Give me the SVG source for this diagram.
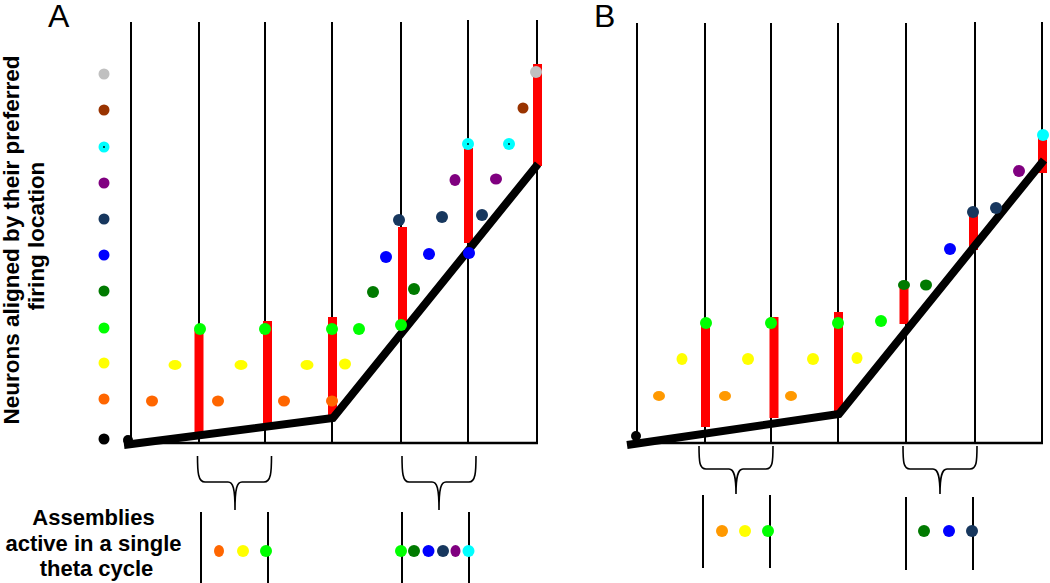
<svg xmlns="http://www.w3.org/2000/svg" width="1050" height="583" viewBox="0 0 1050 583">
<style>
.v{stroke:#000;stroke-width:2;fill:none}
.base{stroke:#000;stroke-width:2.5;fill:none}
.thick{stroke:#000;stroke-width:8;fill:none;stroke-linejoin:miter}
.red{fill:#ff0000}
.br{stroke:#000;stroke-width:1.6;fill:none}
.lbl{font-family:"Liberation Sans",Arial,sans-serif;font-size:32px;fill:#000}
.ax{font-family:"Liberation Sans",Arial,sans-serif;font-size:22.5px;font-weight:bold;fill:#000;text-anchor:middle}
.leg{font-family:"Liberation Sans",Arial,sans-serif;font-size:22px;font-weight:bold;fill:#000;text-anchor:middle}
.gy{fill:#c0c0c0}.bn{fill:#993300}.cy{fill:#00ffff}.pu{fill:#800080}.nv{fill:#17375e}
.bl{fill:#0000ff}.dg{fill:#007a00}.gr{fill:#00ff00}.ye{fill:#ffff00}.or{fill:#ff6600}.or2{fill:#ff9900}.bk{fill:#000}
.c{fill:#000}
</style>
<rect width="1050" height="583" fill="#fff"/>

<!-- Panel A -->
<g id="panelA">
<text class="lbl" x="48" y="27">A</text>
<g id="axisLabel">
<text class="ax" transform="translate(19,240) rotate(-90)">Neurons aligned by their preferred</text>
<text class="ax" transform="translate(44,236) rotate(-90)">firing location</text>
</g>
<g id="A-grid">
<line class="v" x1="131" y1="22" x2="131" y2="443"/>
<line class="v" x1="199" y1="22" x2="199" y2="443"/>
<line class="v" x1="265" y1="22" x2="265" y2="443"/>
<line class="v" x1="332" y1="22" x2="332" y2="443"/>
<line class="v" x1="401" y1="22" x2="401" y2="443"/>
<line class="v" x1="468" y1="20" x2="468" y2="443"/>
<line class="v" x1="537" y1="20" x2="537" y2="443"/>
<line class="base" x1="125" y1="443" x2="538" y2="443"/>
</g>
<g id="A-bars">
<rect class="red" x="194.5" y="330" width="9" height="103"/>
<rect class="red" x="263" y="321" width="9" height="102"/>
<rect class="red" x="328" y="317" width="9" height="100"/>
<rect class="red" x="398" y="227" width="9" height="97"/>
<rect class="red" x="464" y="148" width="9" height="95"/>
<rect class="red" x="533" y="64" width="9" height="102"/>
</g>
<path id="A-track" class="thick" d="M124,445 L333,418 L538,164"/>
<circle class="bk" cx="128" cy="440" r="5"/>
<g id="A-column">
<circle class="gy" cx="104" cy="74" r="5.5"/>
<circle class="bn" cx="104" cy="110" r="5.5"/>
<circle class="cy" cx="104" cy="147" r="5.5"/><circle class="c" cx="104" cy="147" r="0.9"/>
<circle class="pu" cx="104" cy="183" r="5.5"/>
<circle class="nv" cx="104" cy="219" r="5.5"/>
<circle class="bl" cx="104" cy="255" r="5.5"/>
<circle class="dg" cx="104" cy="291" r="5.5"/>
<circle class="gr" cx="104" cy="328" r="5.5"/>
<circle class="ye" cx="104" cy="363" r="5.5"/>
<circle class="or" cx="104" cy="399" r="5.5"/>
<circle class="bk" cx="104" cy="439" r="5.5"/>
</g>
<g id="A-dots">
<ellipse class="or" cx="152" cy="401" rx="6" ry="5.5"/>
<ellipse class="or" cx="218" cy="401" rx="6" ry="5.5"/>
<ellipse class="or" cx="284" cy="401" rx="6" ry="5.5"/>
<ellipse class="or" cx="332" cy="401" rx="6" ry="5.5"/>
<ellipse class="ye" cx="175" cy="365" rx="6.5" ry="5"/>
<ellipse class="ye" cx="241" cy="365" rx="6.5" ry="5"/>
<ellipse class="ye" cx="307" cy="365" rx="6.5" ry="5"/>
<ellipse class="ye" cx="345" cy="364" rx="6" ry="5.5"/>
<circle class="gr" cx="200" cy="329" r="6"/>
<circle class="gr" cx="265" cy="329" r="6"/>
<circle class="gr" cx="332" cy="329" r="6"/>
<circle class="gr" cx="359" cy="329" r="6"/>
<circle class="gr" cx="401" cy="325" r="6"/>
<circle class="dg" cx="373" cy="292" r="6"/>
<circle class="dg" cx="414" cy="289" r="6"/>
<circle class="bl" cx="386" cy="257" r="6"/>
<circle class="bl" cx="429" cy="254" r="6"/>
<circle class="bl" cx="469" cy="253" r="6"/>
<circle class="nv" cx="399" cy="220" r="6"/>
<circle class="nv" cx="442" cy="217" r="6"/>
<circle class="nv" cx="482" cy="215" r="6"/>
<ellipse class="pu" cx="455" cy="180" rx="5.5" ry="6"/>
<ellipse class="pu" cx="496" cy="179" rx="6" ry="5.5"/>
<circle class="cy" cx="468" cy="144" r="6"/><circle class="c" cx="468" cy="144" r="0.9"/>
<circle class="cy" cx="509" cy="144" r="6"/><circle class="c" cx="509" cy="144" r="0.9"/>
<circle class="bn" cx="523" cy="108" r="5.5"/>
<circle class="gy" cx="536" cy="72" r="6"/>
</g>
<g id="A-braces">
<path class="br" d="M197.5,456 C197.5,472 198,482 205,482 L228,482 C233,482 235,488 235,510 C235,488 237,482 242,482 L264,482 C271,482 271.5,472 271.5,456"/>
<path class="br" d="M402,456 C402,472 402.5,482 409,482 L432,482 C437,482 439,488 439,510 C439,488 441,482 446,482 L469,482 C475.5,482 476,472 476,456"/>
</g>
<g id="A-assemblies">
<line class="v" x1="201" y1="512" x2="201" y2="583"/>
<line class="v" x1="268" y1="512" x2="268" y2="583"/>
<ellipse class="or" cx="219" cy="551" rx="5" ry="6"/>
<circle class="ye" cx="243" cy="551" r="6"/>
<circle class="gr" cx="266" cy="551" r="6"/>
<line class="v" x1="402" y1="512" x2="402" y2="583"/>
<line class="v" x1="469" y1="512" x2="469" y2="583"/>
<circle class="gr" cx="401" cy="551" r="6"/>
<circle class="dg" cx="414" cy="551" r="6"/>
<circle class="bl" cx="428.5" cy="551" r="6"/>
<circle class="nv" cx="443" cy="551" r="6"/>
<ellipse class="pu" cx="455.5" cy="551" rx="5" ry="6"/>
<circle class="cy" cx="468.5" cy="551" r="6"/>
</g>
<g id="legendText">
<text class="leg" x="93.5" y="525">Assemblies</text>
<text class="leg" x="93.5" y="551">active in a single</text>
<text class="leg" x="96.5" y="576">theta cycle</text>
</g>
</g>

<!-- Panel B -->
<g id="panelB">
<text class="lbl" x="594" y="27">B</text>
<g id="B-grid">
<line class="v" x1="637" y1="23" x2="637" y2="443"/>
<line class="v" x1="705" y1="23" x2="705" y2="443"/>
<line class="v" x1="771" y1="23" x2="771" y2="443"/>
<line class="v" x1="838" y1="23" x2="838" y2="443"/>
<line class="v" x1="906" y1="23" x2="906" y2="443"/>
<line class="v" x1="975" y1="22" x2="975" y2="443"/>
<line class="v" x1="1042" y1="22" x2="1042" y2="443"/>
<line class="base" x1="627" y1="443" x2="1043" y2="443"/>
</g>
<g id="B-bars">
<rect class="red" x="701" y="325" width="9" height="102"/>
<rect class="red" x="769.5" y="317" width="9" height="101"/>
<rect class="red" x="834" y="312" width="9" height="102"/>
<rect class="red" x="899.5" y="287" width="9" height="37"/>
<rect class="red" x="969" y="213" width="9" height="37"/>
<rect class="red" x="1038" y="137" width="9" height="36"/>
</g>
<path id="B-track" class="thick" d="M627,445 L839,414 L1044,160"/>
<circle class="bk" cx="636" cy="436" r="5"/>
<g id="B-dots">
<ellipse class="or2" cx="659" cy="396" rx="6" ry="5"/>
<ellipse class="or2" cx="725" cy="396" rx="6" ry="5"/>
<ellipse class="or2" cx="791" cy="396" rx="6" ry="5"/>
<ellipse class="ye" cx="682" cy="359" rx="5.5" ry="6"/>
<ellipse class="ye" cx="748" cy="359" rx="6" ry="6"/>
<ellipse class="ye" cx="813" cy="359" rx="6" ry="6"/>
<ellipse class="ye" cx="857" cy="358" rx="5.5" ry="6"/>
<circle class="gr" cx="706" cy="323" r="6"/>
<circle class="gr" cx="771" cy="323" r="6"/>
<circle class="gr" cx="838" cy="323" r="6"/>
<circle class="gr" cx="881" cy="321" r="6"/>
<ellipse class="dg" cx="904" cy="285" rx="6" ry="5"/>
<ellipse class="dg" cx="926" cy="285" rx="6" ry="5.5"/>
<circle class="bl" cx="950" cy="249" r="6"/>
<circle class="nv" cx="973" cy="212" r="6"/>
<circle class="nv" cx="996" cy="208" r="6"/>
<circle class="pu" cx="1019" cy="171" r="6"/>
<circle class="cy" cx="1043" cy="135" r="6"/>
</g>
<g id="B-braces">
<path class="br" d="M699,446 C699,462 699.5,469 706,469 L729,469 C734,469 736,476 736,494 C736,476 738,469 743,469 L766,469 C772.5,469 773,462 773,446"/>
<path class="br" d="M903,446 C903,462 903.5,469 910,469 L933,469 C938,469 940,476 940,494 C940,476 942,469 947,469 L970,469 C976.5,469 977,462 977,446"/>
</g>
<g id="B-assemblies">
<line class="v" x1="703" y1="495" x2="703" y2="568"/>
<line class="v" x1="770" y1="495" x2="770" y2="568"/>
<circle class="or2" cx="722" cy="531" r="6"/>
<circle class="ye" cx="745" cy="531" r="6"/>
<circle class="gr" cx="768" cy="531" r="6"/>
<line class="v" x1="906" y1="497" x2="906" y2="570"/>
<line class="v" x1="973" y1="497" x2="973" y2="570"/>
<circle class="dg" cx="924" cy="531" r="6"/>
<circle class="bl" cx="949" cy="531" r="6"/>
<circle class="nv" cx="972" cy="531" r="6"/>
</g>
</g>
</svg>
